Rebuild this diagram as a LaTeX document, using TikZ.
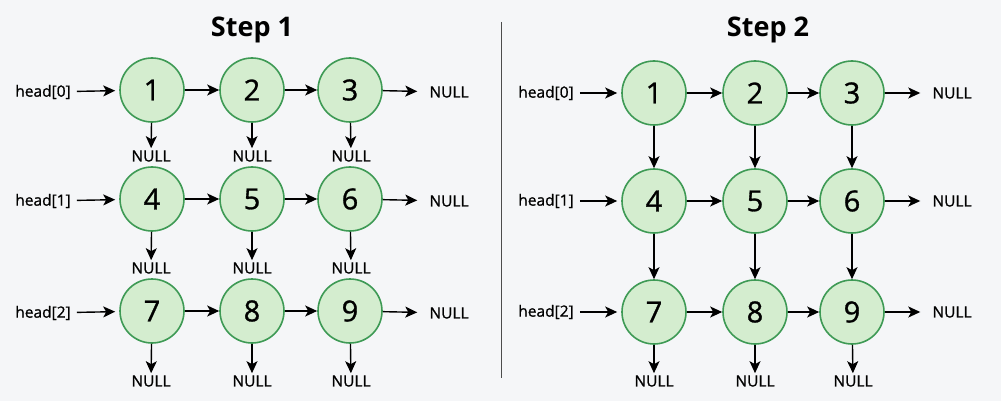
\documentclass[tikz,border=0pt]{standalone}
\usepackage{fontspec}
\setmainfont{Open Sans}
\newfontfamily\medfont[FakeBold=1]{Open Sans}
\usetikzlibrary{arrows.meta}
\definecolor{bg}{HTML}{F5F6F8}
\definecolor{nodefill}{HTML}{D4EDCF}
\definecolor{nodeline}{HTML}{3E9A55}
\tikzset{
  cell/.style={circle,draw=nodeline,fill=nodefill,line width=1.6pt,minimum size=64pt,inner sep=0pt,font=\medfont\fontsize{29}{34}\selectfont},
  lbl/.style={inner sep=2pt,font=\medfont\fontsize{15.5}{18}\selectfont},
  nul/.style={inner sep=2pt,font=\medfont\fontsize{15.5}{18}\selectfont},
  ttl/.style={font=\bfseries\fontsize{27}{32}\selectfont},
  link/.style={-{Stealth[length=12pt,width=11pt,inset=3pt]},line width=1.4pt}
}
\begin{document}
\begin{tikzpicture}[x=1pt,y=-1pt]
	\fill[bg] (0,0) rectangle (1001,401);
	\useasboundingbox (0,0) rectangle (1001,401);
	\draw[line width=1pt,black!70] (501,22) -- (501,378);

	% Step 1
	\begin{scope}
	\node[ttl] (t1) at (252,30) {Step 1};

	\node[lbl] (h0) at (43,92) {head[0]};
	\node[lbl] (h1) at (43,201) {head[1]};
	\node[lbl] (h2) at (43,313) {head[2]};

	\node[cell] (a1) at (152,90) {1};
	\node[cell] (a2) at (252,90) {2};
	\node[cell] (a3) at (350,90) {3};
	\node[cell] (a4) at (152,199) {4};
	\node[cell] (a5) at (252,199) {5};
	\node[cell] (a6) at (350,199) {6};
	\node[cell] (a7) at (152,311) {7};
	\node[cell] (a8) at (252,311) {8};
	\node[cell] (a9) at (350,311) {9};

	\node[nul] (r0) at (449,92) {NULL};
	\node[nul] (r1) at (449,201) {NULL};
	\node[nul] (r2) at (449,313) {NULL};

	\node[nul] (b1) at (151,156) {NULL};
	\node[nul] (b2) at (252,156) {NULL};
	\node[nul] (b3) at (351,156) {NULL};
	\node[nul] (b4) at (151,268) {NULL};
	\node[nul] (b5) at (252,268) {NULL};
	\node[nul] (b6) at (351,268) {NULL};
	\node[nul] (b7) at (151,381) {NULL};
	\node[nul] (b8) at (252,381) {NULL};
	\node[nul] (b9) at (351,381) {NULL};

	\draw[link,shorten <=4pt,shorten >=4pt] (h0) -- (a1);
	\draw[link,shorten <=4pt,shorten >=4pt] (h1) -- (a4);
	\draw[link,shorten <=4pt,shorten >=4pt] (h2) -- (a7);
	\draw[link] (a1) -- (a2);
	\draw[link] (a2) -- (a3);
	\draw[link] (a4) -- (a5);
	\draw[link] (a5) -- (a6);
	\draw[link] (a7) -- (a8);
	\draw[link] (a8) -- (a9);
	\draw[link,shorten >=10pt] (a3) -- (r0);
	\draw[link,shorten >=10pt] (a6) -- (r1);
	\draw[link,shorten >=10pt] (a9) -- (r2);
	\draw[link] (a1) -- (b1);
	\draw[link] (a2) -- (b2);
	\draw[link] (a3) -- (b3);
	\draw[link] (a4) -- (b4);
	\draw[link] (a5) -- (b5);
	\draw[link] (a6) -- (b6);
	\draw[link] (a7) -- (b7);
	\draw[link] (a8) -- (b8);
	\draw[link] (a9) -- (b9);
	\end{scope}

	% Step 2
	\begin{scope}
	\node[ttl] (t2) at (768,30) {Step 2};

	\node[lbl] (g0) at (546,93) {head[0]};
	\node[lbl] (g1) at (546,201) {head[1]};
	\node[lbl] (g2) at (546,312) {head[2]};

	\node[cell] (d1) at (654,93) {1};
	\node[cell] (d2) at (755,93) {2};
	\node[cell] (d3) at (852,93) {3};
	\node[cell] (d4) at (654,201) {4};
	\node[cell] (d5) at (755,201) {5};
	\node[cell] (d6) at (852,201) {6};
	\node[cell] (d7) at (654,312) {7};
	\node[cell] (d8) at (755,312) {8};
	\node[cell] (d9) at (852,312) {9};

	\node[nul] (s0) at (952,93) {NULL};
	\node[nul] (s1) at (952,201) {NULL};
	\node[nul] (s2) at (952,312) {NULL};

	\node[nul] (e7) at (654,381) {NULL};
	\node[nul] (e8) at (755,381) {NULL};
	\node[nul] (e9) at (853,381) {NULL};

	\draw[link,shorten <=4pt,shorten >=4pt] (g0) -- (d1);
	\draw[link,shorten <=4pt,shorten >=4pt] (g1) -- (d4);
	\draw[link,shorten <=4pt,shorten >=4pt] (g2) -- (d7);
	\draw[link] (d1) -- (d2);
	\draw[link] (d2) -- (d3);
	\draw[link] (d4) -- (d5);
	\draw[link] (d5) -- (d6);
	\draw[link] (d7) -- (d8);
	\draw[link] (d8) -- (d9);
	\draw[link,shorten >=10pt] (d3) -- (s0);
	\draw[link,shorten >=10pt] (d6) -- (s1);
	\draw[link,shorten >=10pt] (d9) -- (s2);
	\draw[link] (d1) -- (d4);
	\draw[link] (d2) -- (d5);
	\draw[link] (d3) -- (d6);
	\draw[link] (d4) -- (d7);
	\draw[link] (d5) -- (d8);
	\draw[link] (d6) -- (d9);
	\draw[link] (d7) -- (e7);
	\draw[link] (d8) -- (e8);
	\draw[link] (d9) -- (e9);
	\end{scope}
\end{tikzpicture}
\end{document}
